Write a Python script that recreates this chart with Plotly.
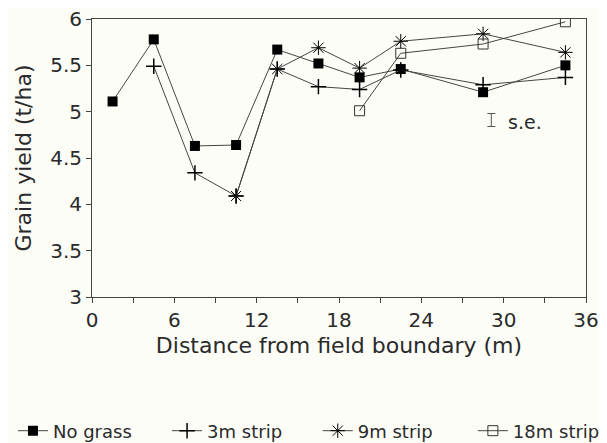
import plotly.graph_objects as go

dist = [1.5, 4.5, 7.5, 10.5, 13.5, 16.5, 19.5, 22.5, 28.5, 34.5]
no_grass = [5.11, 5.78, 4.63, 4.64, 5.67, 5.52, 5.37, 5.46, 5.21, 5.50]
strip3_x = [4.5, 7.5, 10.5, 13.5, 16.5, 19.5, 22.5, 28.5, 34.5]
strip3 = [5.49, 4.34, 4.09, 5.46, 5.27, 5.24, 5.45, 5.29, 5.37]
strip9_x = [10.5, 13.5, 16.5, 19.5, 22.5, 28.5, 34.5]
strip9 = [4.09, 5.46, 5.69, 5.47, 5.76, 5.84, 5.64]
strip18_x = [19.5, 22.5, 28.5, 34.5]
strip18 = [5.01, 5.63, 5.73, 5.97]
se_x = [29.1]
se_y = [4.91]
se_half = [0.07]
x_ticks = [0, 6, 12, 18, 24, 30, 36]
x_minor = [3, 9, 15, 21, 27, 33]
y_ticks = [3, 3.5, 4, 4.5, 5, 5.5, 6]
y_labels = ["3", "3.5", "4", "4.5", "5", "5.5", "6"]

FONT = "DejaVu Sans"
INK = "#2a2a2a"
BG = "#fdfdf8"

fig = go.Figure()
line = dict(color="#444", width=1)
fig.add_trace(go.Scatter(x=dist, y=no_grass, name="No grass", mode="lines+markers",
                         legend="legend",
                         line=line, marker=dict(symbol="square", size=10, color="black")))
fig.add_trace(go.Scatter(x=strip3_x, y=strip3, name="3m strip", mode="lines+markers",
                         legend="legend2",
                         line=line, marker=dict(symbol="cross-thin", size=11,
                                                line=dict(color="black", width=1.5))))
fig.add_trace(go.Scatter(x=strip9_x, y=strip9, name="9m strip", mode="lines+markers",
                         legend="legend3",
                         line=line, marker=dict(symbol="asterisk", size=12,
                                                line=dict(color="black", width=1))))
fig.add_trace(go.Scatter(x=strip18_x, y=strip18, name="18m strip", mode="lines+markers",
                         legend="legend4",
                         line=line, marker=dict(symbol="square-open", size=10, color="#333",
                                                line=dict(color="#333", width=1))))
fig.add_trace(go.Scatter(x=se_x, y=se_y, mode="markers", showlegend=False,
                         marker=dict(size=1, color="rgba(0,0,0,0)"),
                         error_y=dict(type="data", array=se_half, color="#555",
                                      thickness=1, width=4)))
fig.add_annotation(x=se_x[0] + 1.1, y=se_y[0] - 0.02, text="s.e.", showarrow=False,
                   xanchor="left", yanchor="middle",
                   font=dict(family=FONT, size=19, color=INK))

def leg(xp):
    return dict(orientation="h", x=xp, xanchor="left", y=-0.482, yanchor="middle",
                font=dict(family=FONT, size=18, color=INK),
                bgcolor="rgba(0,0,0,0)", itemwidth=30)

fig.update_layout(
    width=599, height=435,
    margin=dict(l=84, r=21, t=11, b=146, autoexpand=False),
    paper_bgcolor=BG, plot_bgcolor=BG,
    font=dict(family=FONT, size=18, color=INK),
    showlegend=True,
    legend=leg(-0.160), legend2=leg(0.152), legend3=leg(0.457), legend4=leg(0.771),
    xaxis=dict(range=[0, 36], tickvals=x_ticks, ticktext=[str(v) for v in x_ticks],
               tickfont=dict(size=20), ticklabeloverflow="allow",
               ticks="outside", ticklen=5, tickcolor="#444",
               minor=dict(tickvals=x_minor, ticks="outside", ticklen=5, tickcolor="#444"),
               showline=True, linecolor="#444", linewidth=1, mirror=True,
               showgrid=False, zeroline=False, automargin=False,
               title=dict(text="Distance from field boundary (m)", standoff=6)),
    yaxis=dict(range=[3, 6], tickvals=y_ticks, ticktext=y_labels,
               tickfont=dict(size=20), ticklabeloverflow="allow",
               ticks="outside", ticklen=5, tickcolor="#444",
               showline=True, linecolor="#444", linewidth=1, mirror=True,
               showgrid=False, zeroline=False, automargin=False,
               title=dict(text="Grain yield (t/ha)", standoff=12)),
)

fig.write_html("out.html")
